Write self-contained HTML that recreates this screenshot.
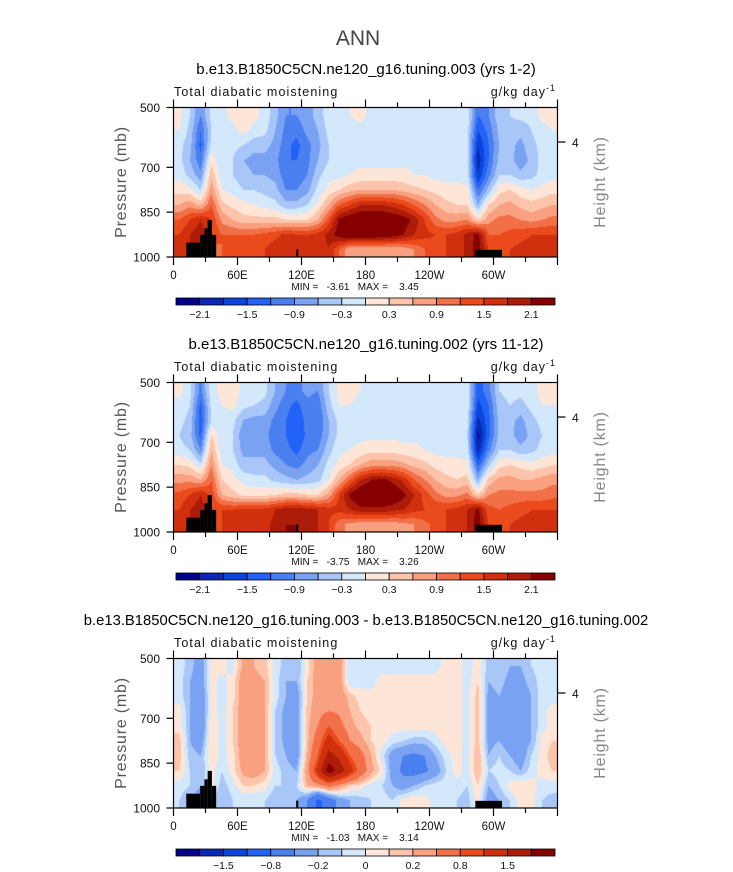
<!DOCTYPE html>
<html><head><meta charset="utf-8"><style>
body{margin:0;background:#fff;width:733px;height:872px;overflow:hidden;position:relative;font-family:"Liberation Sans",sans-serif}
canvas{position:absolute}
svg{position:absolute;left:0;top:0}
</style></head><body>
<canvas id="c0" width="384" height="149" style="left:174px;top:108px"></canvas>
<canvas id="c1" width="384" height="149" style="left:174px;top:383px"></canvas>
<canvas id="c2" width="384" height="149" style="left:174px;top:659px"></canvas>
<svg id="ov" width="733" height="872"></svg>
<script>
const colors=['#00008a','#0a28b4','#0a46dc','#2262f6','#4a7ff0','#7aa2f2','#a8c6f8','#d4e8fc','#fde6d8','#fcc4aa','#f8a080','#f27048','#ea4a1c','#d0300e','#ac1c08','#860000'];
const bounds12=[-2.1,-1.8,-1.5,-1.2,-0.9,-0.6,-0.3,0,0.3,0.6,0.9,1.2,1.5,1.8,2.1];
const bounds3=[-2,-1.5,-1,-0.8,-0.4,-0.2,-0.1,0,0.1,0.2,0.4,0.8,1,1.5,2];
const labels12=['-2.1','-1.5','-0.9','-0.3','0.3','0.9','1.5','2.1'];
const labels3=['-1.5','-0.8','-0.2','0','0.2','0.8','1.5'];
const lonTicks=['0','60E','120E','180','120W','60W'];
const presTicks=[500,700,850,1000];
const titles=['b.e13.B1850C5CN.ne120_g16.tuning.003 (yrs 1-2)','b.e13.B1850C5CN.ne120_g16.tuning.002 (yrs 11-12)','b.e13.B1850C5CN.ne120_g16.tuning.003 - b.e13.B1850C5CN.ne120_g16.tuning.002'];
const minVals=['-3.61','-3.75','-1.03'];
const maxVals=['3.45','3.26','3.14'];
const topoSteps=[[12,25,952],[25,29,926],[29,32,904],[32,36,876],[36,40,926],[115,117,975],[283,308,976]];
const field1=[
[0.1,-0.3,-0.9,-0.2,-0.1,0.1,0.2,0.1,-0.1,-0.5,-0.9,-0.9,-0.7,-0.5,-0.1,-0.1,0.0,0.1,-0.1,-0.1,-0.1,-0.1,-0.1,-0.1,-0.1,-0.1,-0.1,-0.1,-1.2,-0.9,-0.4,-0.3,-0.2,-0.2,0.1,0.1],
[0.0,-0.4,-1.2,-0.3,-0.2,-0.1,0.1,-0.1,-0.2,-0.6,-1.0,-1.1,-0.8,-0.6,-0.2,-0.1,-0.1,-0.1,-0.1,-0.1,-0.1,-0.1,-0.1,-0.1,-0.1,-0.1,-0.1,-0.2,-1.5,-1.1,-0.5,-0.4,-0.5,-0.3,-0.1,0.0],
[-0.2,-0.5,-1.3,-0.2,-0.2,-0.2,-0.3,-0.5,-0.5,-0.7,-1.1,-1.3,-1.0,-0.7,-0.3,-0.1,-0.1,-0.1,-0.1,-0.1,-0.1,-0.1,-0.1,-0.1,-0.1,-0.1,-0.1,-0.2,-1.8,-1.2,-0.6,-0.5,-0.7,-0.4,-0.2,-0.1],
[-0.2,-0.6,-1.1,0.2,-0.3,-0.3,-0.6,-0.7,-0.7,-0.8,-1.2,-1.2,-1.0,-0.6,-0.3,-0.1,-0.1,-0.1,-0.1,-0.1,-0.1,-0.1,-0.1,-0.1,-0.1,-0.1,-0.1,-0.2,-2.0,-1.2,-0.5,-0.5,-0.8,-0.5,-0.2,-0.1],
[-0.1,-0.4,-0.8,0.5,-0.2,-0.3,-0.5,-0.6,-0.6,-0.7,-1.1,-1.1,-0.9,-0.4,-0.1,-0.1,0.0,0.1,0.1,0.1,0.1,0.1,0.0,0.0,-0.1,-0.1,-0.1,-0.2,-1.8,-1.0,-0.3,-0.3,-0.5,-0.4,-0.2,-0.1],
[0.2,0.1,-0.3,0.8,0.0,-0.1,-0.3,-0.3,-0.4,-0.5,-0.9,-0.9,-0.7,-0.2,0.1,0.3,0.5,0.6,0.6,0.6,0.6,0.5,0.4,0.3,0.2,0.1,0.1,0.1,-1.2,-0.5,0.2,0.3,0.1,0.0,0.1,0.2],
[0.6,0.8,0.5,1.2,0.4,0.2,0.1,0.0,-0.1,-0.2,-0.5,-0.5,-0.3,0.1,0.6,1.2,1.5,1.8,1.8,1.8,1.7,1.5,1.2,0.9,0.6,0.4,0.3,0.3,-0.6,0.3,0.6,0.7,0.5,0.4,0.5,0.6],
[1.2,1.5,1.8,1.5,0.8,0.6,0.4,0.4,0.4,0.4,0.3,0.3,0.3,0.6,1.3,2.2,2.4,2.5,2.5,2.5,2.4,2.3,2.0,1.5,1.0,0.8,0.8,0.9,0.3,0.8,1.0,1.0,0.9,0.8,0.9,1.0],
[1.5,1.8,2.0,1.5,1.2,1.2,1.2,1.2,1.3,1.4,1.6,1.5,1.5,1.6,1.9,2.3,2.5,2.5,2.5,2.4,2.3,2.1,1.8,1.6,1.5,1.5,1.6,1.9,2.2,1.2,1.2,1.3,1.4,1.5,1.5,1.5],
[1.6,1.8,2.0,1.0,1.2,1.3,1.3,1.4,1.5,1.7,1.7,1.6,1.5,1.6,1.8,1.2,0.6,0.6,0.6,0.6,0.6,0.7,0.9,1.2,1.4,1.5,1.6,1.9,2.3,1.5,1.4,1.5,1.6,1.6,1.6,1.6]];
const field2=[
[0.1,-0.2,-1.0,-0.1,0.1,0.2,-0.1,-0.1,-0.2,-0.6,-0.9,-1.0,-0.8,-0.9,-0.3,0.1,0.1,0.0,-0.1,-0.1,-0.1,-0.1,-0.1,-0.1,-0.1,-0.1,-0.1,-0.1,-1.4,-1.0,-0.3,-0.2,-0.2,-0.1,0.1,0.1],
[-0.1,-0.3,-1.3,-0.2,0.0,0.1,-0.2,-0.3,-0.4,-0.8,-1.1,-1.3,-1.0,-1.1,-0.4,0.0,0.0,-0.1,-0.1,-0.1,-0.1,-0.1,-0.1,-0.1,-0.1,-0.1,-0.1,-0.1,-1.6,-1.2,-0.4,-0.3,-0.4,-0.2,0.0,0.0],
[-0.2,-0.4,-1.4,-0.3,-0.1,-0.2,-0.6,-0.7,-0.7,-1.0,-1.2,-1.4,-1.1,-1.2,-0.6,-0.2,-0.1,-0.1,-0.1,-0.1,-0.1,-0.1,-0.1,-0.1,-0.1,-0.1,-0.1,-0.2,-1.9,-1.3,-0.5,-0.5,-0.7,-0.4,-0.2,-0.1],
[-0.3,-0.5,-1.3,0.3,-0.2,-0.3,-0.8,-0.8,-0.8,-1.1,-1.2,-1.5,-1.1,-1.1,-0.6,-0.2,-0.1,-0.1,-0.1,-0.1,-0.1,-0.1,-0.1,-0.1,-0.1,-0.1,-0.1,-0.3,-2.2,-1.3,-0.5,-0.5,-0.8,-0.5,-0.3,-0.2],
[-0.2,-0.3,-0.9,0.6,-0.2,-0.3,-0.7,-0.7,-0.7,-1.0,-1.1,-1.3,-1.0,-0.9,-0.4,-0.1,0.0,0.1,0.2,0.2,0.2,0.1,0.1,0.0,-0.1,-0.1,-0.1,-0.2,-2.0,-1.0,-0.3,-0.3,-0.5,-0.4,-0.2,-0.1],
[0.3,0.2,-0.2,0.9,0.0,-0.1,-0.5,-0.5,-0.5,-0.7,-0.9,-1.0,-0.8,-0.6,-0.2,0.1,0.3,0.6,0.8,0.8,0.8,0.7,0.5,0.4,0.2,0.1,0.1,0.1,-1.3,-0.4,0.2,0.3,0.2,0.1,0.2,0.3],
[0.8,0.8,0.6,1.2,0.3,0.1,-0.1,-0.2,-0.2,-0.4,-0.5,-0.6,-0.5,-0.4,0.0,0.6,1.2,1.8,2.1,2.2,2.0,1.7,1.2,0.9,0.6,0.4,0.3,0.4,-0.6,0.4,0.7,0.7,0.6,0.6,0.7,0.8],
[1.3,1.5,1.8,1.4,0.6,0.4,0.2,0.2,0.2,0.3,0.4,0.4,0.3,0.3,0.7,1.5,2.2,2.5,2.6,2.6,2.5,2.2,1.8,1.4,1.0,0.8,0.8,1.0,0.3,0.9,1.0,1.0,1.0,1.0,1.0,1.1],
[1.5,1.8,2.0,1.5,1.5,1.5,1.6,1.6,1.6,1.8,2.0,2.0,1.9,1.8,1.6,1.6,1.8,2.0,2.0,2.0,1.9,1.8,1.6,1.5,1.5,1.5,1.6,1.8,2.2,1.3,1.2,1.3,1.4,1.5,1.5,1.5],
[1.6,1.8,2.0,1.0,1.5,1.5,1.6,1.6,1.7,1.9,2.1,2.1,2.0,1.8,1.5,1.0,0.8,0.7,0.7,0.7,0.7,0.8,0.9,1.1,1.3,1.5,1.6,1.8,2.3,1.5,1.4,1.5,1.6,1.6,1.6,1.6]];
const field3=[
[-0.05,-0.15,-0.3,0.05,0.05,-0.05,0.25,0.2,0.15,-0.05,-0.15,-0.2,0.05,0.3,0.3,0.3,-0.1,-0.05,-0.1,-0.05,-0.05,-0.05,-0.05,-0.05,-0.05,0.05,0.05,-0.05,0.05,-0.15,-0.1,-0.2,-0.2,-0.1,-0.05,-0.05],
[-0.05,-0.2,-0.3,0.05,-0.05,0.05,0.3,0.25,0.2,-0.05,-0.2,-0.2,0.1,0.3,0.3,0.3,-0.1,-0.05,-0.05,0.05,0.05,0.05,0.05,0.05,0.05,0.05,0.05,-0.05,0.1,-0.2,-0.15,-0.25,-0.25,-0.15,-0.05,-0.05],
[-0.05,-0.2,-0.4,0.05,-0.05,0.05,0.3,0.3,0.2,-0.05,-0.2,-0.3,0.1,0.3,0.35,0.3,0.15,0.05,0.05,0.05,0.05,0.05,0.05,0.05,0.05,0.05,0.05,-0.05,0.15,-0.25,-0.2,-0.3,-0.3,-0.2,-0.05,-0.05],
[0.05,-0.2,-0.4,0.05,-0.05,0.1,0.3,0.3,0.2,-0.1,-0.25,-0.3,0.15,0.3,0.4,0.35,0.2,0.1,0.05,0.05,0.05,0.05,0.05,0.05,0.05,0.05,0.05,-0.05,0.15,-0.25,-0.2,-0.3,-0.3,-0.2,-0.05,0.05],
[0.05,-0.2,-0.4,0.1,-0.05,0.1,0.3,0.3,0.2,-0.1,-0.25,-0.3,0.15,0.4,0.8,0.5,0.25,0.15,0.1,0.05,0.05,0.05,0.05,0.05,0.05,0.05,0.05,-0.05,0.15,-0.25,-0.2,-0.3,-0.3,-0.2,-0.05,0.05],
[0.15,-0.2,-0.3,0.1,-0.05,0.1,0.3,0.3,0.2,-0.1,-0.25,-0.3,0.15,0.6,1.2,0.8,0.4,0.25,0.1,0.05,-0.05,-0.1,-0.15,-0.15,-0.05,0.05,0.05,-0.05,0.15,-0.25,-0.2,-0.3,-0.3,-0.2,0.05,0.1],
[0.15,-0.15,-0.2,0.1,-0.05,0.05,0.3,0.3,0.2,-0.1,-0.2,-0.3,0.2,0.8,1.7,1.4,0.8,0.5,0.2,-0.05,-0.3,-0.4,-0.45,-0.4,-0.2,-0.05,0.05,-0.05,0.2,-0.2,-0.1,-0.2,-0.3,-0.1,0.05,0.15],
[0.1,-0.1,-0.2,0.05,-0.1,0.05,0.25,0.3,0.2,-0.05,-0.15,-0.2,0.3,1.2,2.3,1.8,1.2,0.6,0.25,0.05,-0.3,-0.45,-0.5,-0.45,-0.3,-0.1,0.05,-0.05,0.2,-0.1,-0.05,-0.1,-0.2,-0.05,0.05,0.1],
[-0.05,-0.1,-0.2,0.05,-0.15,-0.05,0.1,0.1,0.05,-0.1,-0.1,-0.1,0.2,0.3,0.5,0.3,0.1,0.05,-0.05,-0.1,-0.2,-0.3,-0.2,-0.1,-0.05,-0.05,-0.05,-0.1,0.1,-0.2,-0.1,0.05,0.1,0.05,-0.05,-0.05],
[-0.1,-0.2,-0.3,-0.1,-0.2,-0.1,-0.1,-0.1,-0.1,-0.2,-0.2,-0.2,-0.4,-0.9,-0.6,-0.3,-0.2,-0.15,-0.1,-0.05,-0.1,0.05,0.1,0.05,-0.05,-0.1,-0.1,-0.15,0.05,-0.3,-0.2,-0.1,0.05,0.05,-0.1,-0.15]];

const X0=173.5,X1=557.5,Y0=107.5,Y1=257;
const offs=[0,275,551];
const fields=[field1,field2,field3];
const boundsList=[bounds12,bounds12,bounds3];
const labelsList=[labels12,labels12,labels3];
const labelStart=[1,1,2];
function xOf(lon){return X0+(X1-X0)*lon/360;}
function yOf(p,o){return o+Y0+(Y1-Y0)*(p-500)/500;}
function hexRgb(h){return [parseInt(h.substr(1,2),16),parseInt(h.substr(3,2),16),parseInt(h.substr(5,2),16)];}
const rgb=colors.map(hexRgb);
function sample(f,lon,p){
  let cx=lon/10-0.5, cy=(p-500)/50-0.5;
  cx=Math.max(0,Math.min(35,cx)); cy=Math.max(0,Math.min(9,cy));
  const i0=Math.floor(cx),j0=Math.floor(cy),i1=Math.min(35,i0+1),j1=Math.min(9,j0+1);
  const fx=cx-i0,fy=cy-j0;
  return f[j0][i0]*(1-fx)*(1-fy)+f[j0][i1]*fx*(1-fy)+f[j1][i0]*(1-fx)*fy+f[j1][i1]*fx*fy;
}
for(let k=0;k<3;k++){
  const cv=document.getElementById('c'+k),ctx=cv.getContext('2d');
  const W=cv.width,H=cv.height,img=ctx.createImageData(W,H);
  for(let j=0;j<H;j++)for(let i=0;i<W;i++){
    const v=sample(fields[k],(i+0.5)/W*360,500+(j+0.5)/H*500);
    let li=0;while(li<15&&v>=boundsList[k][li])li++;
    const c=rgb[li],q=(j*W+i)*4;
    img.data[q]=c[0];img.data[q+1]=c[1];img.data[q+2]=c[2];img.data[q+3]=255;
  }
  ctx.putImageData(img,0,0);
}
const NS='http://www.w3.org/2000/svg',ov=document.getElementById('ov');
function el(tag,attrs,txt){const e=document.createElementNS(NS,tag);for(const a in attrs)e.setAttribute(a,attrs[a]);if(txt!==undefined)e.textContent=txt;ov.appendChild(e);return e;}
let e=el('text',{x:358,y:45,'text-anchor':'middle','font-size':21,fill:'#444'},'ANN');


const titleSizes=[15,15,14.8];
for(let k=0;k<3;k++){
  const o=offs[k];
  e=el('text',{x:366,y:74+o,'text-anchor':'middle','font-size':titleSizes[k],fill:'#000'},titles[k]);
  
  
  e=el('text',{x:174,y:96+o,'font-size':12.5,fill:'#111','letter-spacing':'1.1'},'Total diabatic moistening');
  
  
  e=el('text',{x:556,y:96+o,'text-anchor':'end','font-size':12.5,fill:'#111','letter-spacing':'1'});
  e.innerHTML='g/kg day<tspan dy="-5" font-size="9">-1</tspan>';
  
  
  topoSteps.forEach(s=>{
    const r=el('rect',{x:xOf(s[0]),y:yOf(s[2],o),width:xOf(s[1])-xOf(s[0]),height:yOf(1000,o)-yOf(s[2],o),fill:'#000'});
    
    
  });
  e=el('rect',{x:X0,y:Y0+o,width:X1-X0,height:Y1-Y0,fill:'none',stroke:'#000','stroke-width':1.2});
  
  
  for(let t=0;t<=12;t++){
    const x=xOf(t*30),maj=t%2===0,len=maj?8:5;
    el('line',{x1:x,x2:x,y1:Y0+o-len,y2:Y0+o,stroke:'#000','stroke-width':1.2});
    el('line',{x1:x,x2:x,y1:Y1+o,y2:Y1+o+len,stroke:'#000','stroke-width':1.2});
    if(maj&&t<12){
      e=el('text',{x:x,y:279+o,'text-anchor':'middle','font-size':11.5,fill:'#111'},lonTicks[t/2]);
      
      
    }
  }
  presTicks.forEach(p=>{
    const y=yOf(p,o);
    el('line',{x1:X0-7,x2:X0,y1:y,y2:y,stroke:'#000','stroke-width':1.2});
    e=el('text',{x:160,y:y+4.5,'text-anchor':'end','font-size':12,fill:'#111'},String(p));
    
    
  });
  el('line',{x1:X1,x2:X1+8,y1:142+o,y2:142+o,stroke:'#000','stroke-width':1.2});
  e=el('text',{x:572,y:147+o,'font-size':12,fill:'#111'},'4');
  
  
  e=el('text',{x:0,y:0,'text-anchor':'middle','font-size':16,fill:'#555','letter-spacing':'0.8',transform:`translate(126,${182+o}) rotate(-90)`},'Pressure (mb)');
  
  
  e=el('text',{x:0,y:0,'text-anchor':'middle','font-size':16,fill:'#888','letter-spacing':'0.8',transform:`translate(605,${182+o}) rotate(-90)`},'Height (km)');
  
  
  e=el('text',{x:355,y:290+o,'text-anchor':'middle','font-size':10,fill:'#111',style:'white-space:pre'},'MIN =   '+minVals[k]+'   MAX =    '+maxVals[k]);
  
  
  const cb0=176,cb1=555,cw=(cb1-cb0)/16,cy=298+o;
  for(let i=0;i<16;i++){
    e=el('rect',{x:cb0+i*cw,y:cy,width:cw,height:7,fill:colors[i],stroke:'#000','stroke-width':0.8});
    
    
  }
  labelsList[k].forEach((l,i)=>{
    const b=labelStart[k]+i*2;
    e=el('text',{x:cb0+b*cw,y:318+o,'text-anchor':'middle','font-size':10.5,fill:'#111'},l.replace('-','\u2212'));
    
    
  });
}
</script>
</body></html>
